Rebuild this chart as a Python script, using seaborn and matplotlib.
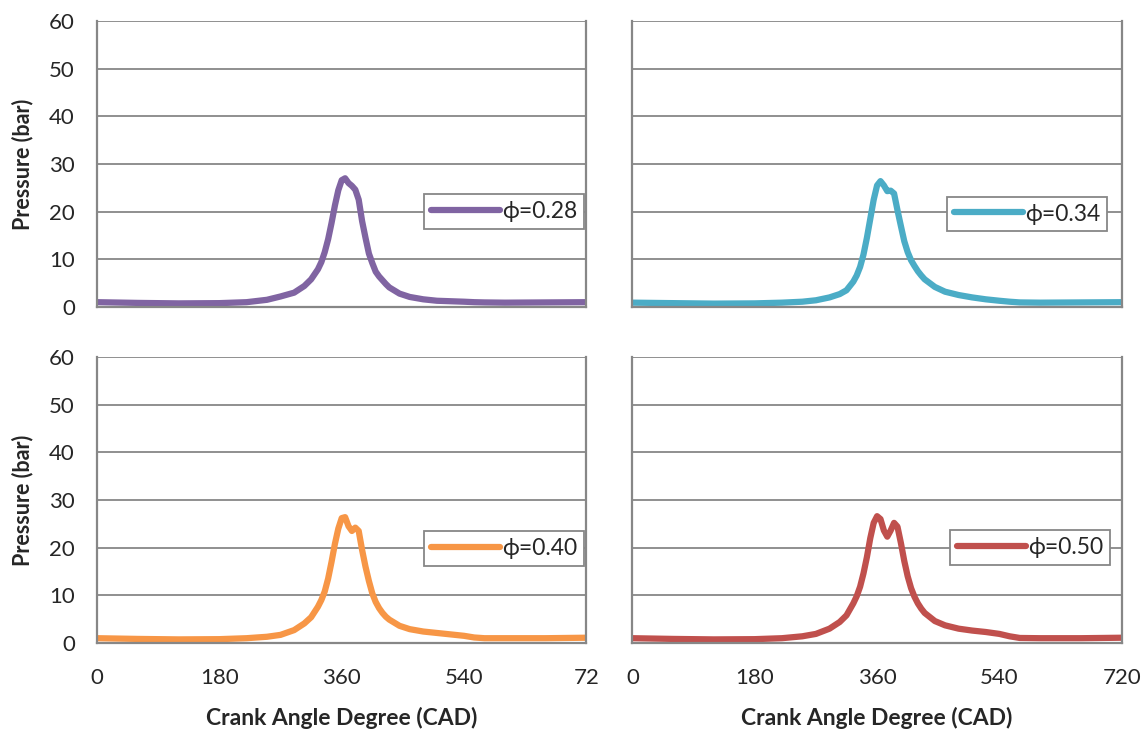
import numpy as np
import pandas as pd
import matplotlib
matplotlib.use('Agg')
import matplotlib.pyplot as plt
import seaborn as sns

# data
cad = [0, 60, 120, 180, 220, 250, 270, 290, 305, 315, 325, 330, 335, 340, 345, 350, 355,
       360, 365, 370, 375, 380, 385, 390, 395, 400, 405, 410, 415, 420, 425, 430, 445,
       460, 480, 500, 520, 540, 555, 570, 600, 660, 720]

p_028 = [1.0, 0.85, 0.75, 0.8, 1.0, 1.5, 2.2, 3.0, 4.4, 5.8, 7.9, 9.4, 11.5, 14.2, 17.6, 21.3, 24.5,
         26.6, 27.0, 26.0, 25.4, 24.6, 22.5, 18.0, 14.5, 11.2, 9.2, 7.4, 6.4, 5.6, 4.8, 4.1, 2.8,
         2.1, 1.6, 1.3, 1.2, 1.1, 1.0, 0.95, 0.9, 0.95, 1.0]
p_034 = [0.9, 0.8, 0.7, 0.75, 0.9, 1.1, 1.4, 2.0, 2.7, 3.5, 5.3, 6.6, 8.4, 11.0, 14.5, 18.5, 22.5,
         25.5, 26.4, 25.5, 24.3, 24.4, 23.8, 20.3, 17.0, 13.8, 11.5, 9.8, 8.6, 7.5, 6.6, 5.8, 4.2,
         3.2, 2.5, 2.0, 1.6, 1.3, 1.1, 0.95, 0.9, 0.95, 1.0]
p_040 = [1.0, 0.85, 0.75, 0.8, 1.0, 1.3, 1.7, 2.7, 4.1, 5.4, 7.6, 9.0, 10.8, 13.5, 17.0, 20.8, 24.0,
         26.2, 26.4, 24.5, 23.5, 24.2, 23.5, 19.5, 16.0, 13.0, 10.4, 8.6, 7.3, 6.3, 5.5, 4.9, 3.6,
         2.9, 2.4, 2.1, 1.8, 1.5, 1.15, 1.0, 1.0, 1.0, 1.1]
p_050 = [1.0, 0.85, 0.75, 0.8, 1.0, 1.4, 1.9, 3.0, 4.4, 5.8, 8.3, 9.8, 11.8, 14.6, 18.0, 22.0, 25.2,
         26.6, 26.0, 23.6, 22.3, 23.6, 25.2, 24.4, 21.0, 17.2, 14.0, 11.5, 9.7, 8.3, 7.2, 6.3, 4.6,
         3.7, 3.0, 2.6, 2.3, 1.9, 1.4, 1.05, 1.0, 1.0, 1.1]

labels = ['\u03d5=0.28', '\u03d5=0.34', '\u03d5=0.40', '\u03d5=0.50']
series = [p_028, p_034, p_040, p_050]
colors = ['#8064A2', '#4BACC6', '#F79646', '#C0504D']
x_ticks = [0, 180, 360, 540, 720]
x_ticklabels_left = ['0', '180', '360', '540', '72']
x_ticklabels_right = ['0', '180', '360', '540', '720']
y_ticks = [0, 10, 20, 30, 40, 50, 60]

sns.set_style('white')
plt.rcParams['font.family'] = ['Lato', 'DejaVu Sans']

fig, axes = plt.subplots(2, 2, figsize=(11.47, 7.36), dpi=100)
fig.subplots_adjust(left=0.0846, right=0.978, top=0.9715, bottom=0.1264,
                    wspace=0.094, hspace=0.175)

legend_pos = [(0.668, 0.335), (0.643, 0.325), (0.668, 0.33), (0.65, 0.335)]

for i, ax in enumerate(axes.flat):
    df = pd.DataFrame({'CAD': cad, 'P': series[i]})
    sns.lineplot(data=df, x='CAD', y='P', ax=ax, color=colors[i], lw=4.5,
                 label=labels[i], solid_capstyle='round', solid_joinstyle='round')
    ax.set_xlim(0, 720)
    ax.set_ylim(0, 60)
    ax.set_xticks(x_ticks)
    ax.set_yticks(y_ticks)
    ax.grid(axis='y', color='#878787', lw=1.3)
    ax.set_axisbelow(True)
    for s in ax.spines.values():
        s.set_color('#878787')
        s.set_linewidth(1.6)
    ax.spines['top'].set_visible(False)
    ax.tick_params(axis='x', direction='in', length=7, width=1.3, color='#878787',
                   labelsize=16, pad=18)
    ax.tick_params(axis='y', direction='in', length=0, labelsize=16, pad=16)
    row, col = divmod(i, 2)
    if row == 0:
        ax.set_xticklabels([])
        ax.set_xlabel('')
    else:
        ax.set_xticklabels(x_ticklabels_left if col == 0 else x_ticklabels_right)
        ax.set_xlabel('Crank Angle Degree (CAD)', fontsize=16.5, fontweight='bold',
                      labelpad=14)
    if col == 0:
        ax.set_ylabel('Pressure (bar)', fontsize=15.5, fontweight='bold')
        ax.yaxis.set_label_coords(-0.13, 0.5)
    else:
        ax.set_yticklabels([])
        ax.set_ylabel('')
    leg = ax.legend(loc='center left', bbox_to_anchor=legend_pos[i], fontsize=16.5,
                    frameon=True, fancybox=False, handlelength=3.0, handletextpad=0.1,
                    borderpad=0.3, borderaxespad=0)
    leg.get_frame().set_edgecolor('#878787')
    leg.get_frame().set_linewidth(1.3)
    leg.get_frame().set_alpha(1)

fig.savefig('out.png', dpi=100)
